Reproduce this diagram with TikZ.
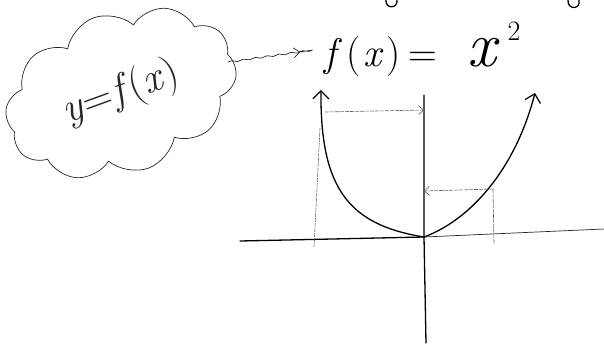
\documentclass[tikz,border=0pt]{standalone}
\usepackage{fontspec}
\usetikzlibrary{shapes.symbols,arrows.meta,decorations.pathmorphing}
\begin{document}
\begin{tikzpicture}[x=1pt,y=-1pt,
  ink/.style={line width=1.3pt, black, line cap=round, line join=round},
  thinink/.style={line width=0.7pt, black!85, line cap=round, line join=round},
  guide/.style={line width=0.6pt, black!60, dash pattern=on 4pt off 1pt},
  bigtip/.style={-{Straight Barb[length=8pt,width=16pt,line width=1.2pt]}},
  smalltip/.style={-{Straight Barb[length=5pt,width=9pt,line width=0.6pt]}}]
\useasboundingbox (0,0) rectangle (604,343);
% cloud with text
\node[cloud, cloud puffs=10, cloud puff arc=120, aspect=1.6, draw, thinink,
      minimum width=238pt, minimum height=160pt, rotate=20, inner sep=0pt,
      font=\fontsize{42}{44}\selectfont] (cloud) at (121,93) {\textit{y}=\textit{f}(\textit{x})};
% formula
\node[font=\fontsize{40}{42}\selectfont, inner sep=2pt, anchor=base west] (fx) at (322,66)
  {\textit{f}\hspace{4pt}(\hspace{3pt}\textit{x}\hspace{3pt})\hspace{8pt}=\hspace{30pt}{\fontsize{64}{64}\selectfont\textit{x}}\hspace{8pt}\raisebox{26pt}{\fontsize{28}{28}\selectfont 2}};
% wavy connector
\draw[thinink, decorate, decoration={snake, amplitude=0.8pt, segment length=12pt, post length=7pt},
      shorten >=22pt,
      -{Straight Barb[length=6pt,width=10pt,line width=0.7pt]}] ([yshift=-8pt]cloud.east) -- (fx.west);
% cut-off descenders at top edge
\draw[ink] (386,0) .. controls (385,9) and (398,9) .. (397,0);
\draw[ink] (568,0) .. controls (567,10) and (581,10) .. (579,0);
% axes
\coordinate (O) at (424,237);
\coordinate (ytop) at (424,95);
\coordinate (ybot) at (426,343);
\coordinate (xl) at (240,241);
\coordinate (xr) at (604,229);
\draw[ink] (ytop) -- (O) -- (ybot);
\draw[ink] (xl) -- (O);
\draw[thinink] (O) -- (xr);
% parabola
\coordinate (ltip) at (321,90);
\coordinate (rtip) at (535,93);
\draw[ink, bigtip] (O) .. controls (350,225) and (320,190) .. (ltip);
\draw[ink, bigtip] (O) .. controls (470,220) and (515,170) .. (rtip);
% guide lines
\coordinate (lpt) at (320,128);
\coordinate (lfoot) at (314,247);
\coordinate (lstart) at (325,112);
\coordinate (lend) at (424,110);
\coordinate (rpt) at (493,189);
\coordinate (rfoot) at (494,243);
\coordinate (rend) at (424,191);
\draw[guide] (lpt) -- (lfoot);
\draw[guide] (rpt) -- (rfoot);
\draw[guide, smalltip] (lstart) -- (lend);
\draw[guide, smalltip] (rpt) -- (rend);
\end{tikzpicture}
\end{document}
